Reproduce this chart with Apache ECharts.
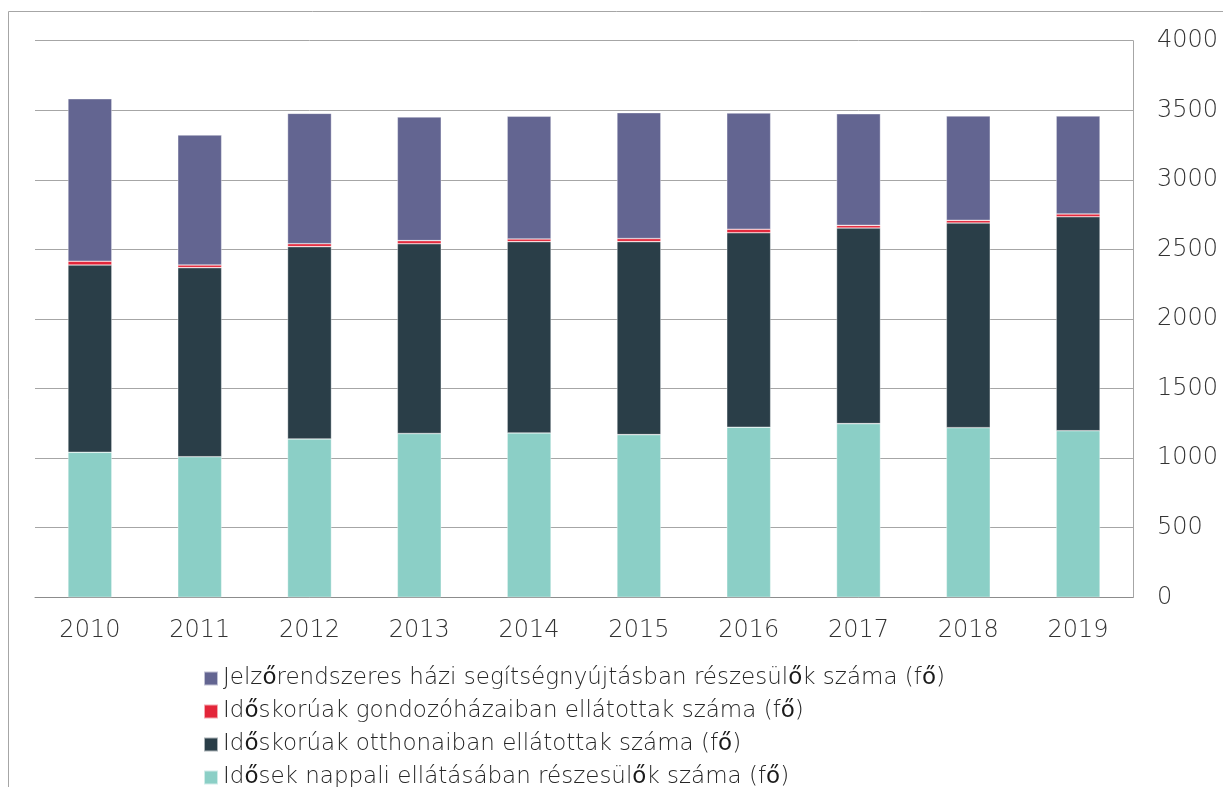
<!DOCTYPE html>
<html>
<head>
<meta charset="utf-8">
<script src="https://cdn.jsdelivr.net/npm/echarts@6/dist/echarts.min.js"></script>
<style>
  html, body { margin: 0; padding: 0; background: #fff; }
  #chart { width: 1223px; height: 787px; }
</style>
</head>
<body>
<div id="chart"></div>
<script>
// Years on the category axis
const years = ['2010', '2011', '2012', '2013', '2014', '2015', '2016', '2017', '2018', '2019'];

// Persons per service type (fő), stacked bottom to top
const napali = [1042, 1010, 1138, 1177, 1181, 1169, 1222, 1248, 1219, 1197];
const otthon = [1346, 1359, 1382, 1364, 1375, 1387, 1398, 1406, 1471, 1538];
const gondozohaz = [27, 19, 21, 22, 19, 22, 25, 19, 19, 20];
const jelzorendszer = [1168, 934, 937, 889, 882, 905, 835, 802, 750, 704];

// Series names
const names = {
  jelzo: 'Jelzőrendszeres házi segítségnyújtásban részesülők száma (fő)',
  gondozo: 'Időskorúak gondozóházaiban ellátottak száma (fő)',
  otthon: 'Időskorúak otthonaiban ellátottak száma (fő)',
  napali: 'Idősek nappali ellátásában részesülők száma (fő)'
};

// Axis ticks
const yMin = 0, yMax = 4000, yStep = 500;

const chart = echarts.init(document.getElementById('chart'), null, { renderer: 'canvas' });

const fontFamily = '"DejaVu Sans", sans-serif';
const lightWeight = 200;
const barStyle = (color) => ({ color: color, borderColor: 'rgba(255,255,255,0.6)', borderWidth: 0.6 });

const option = {
  backgroundColor: '#ffffff',
  animation: false,
  textStyle: { fontFamily: fontFamily },
  graphic: [{
    type: 'rect',
    shape: { x: 8.5, y: 11.5, width: 1400, height: 900 },
    style: { fill: 'none', stroke: '#a6a6a6', lineWidth: 1 },
    silent: true
  }],
  grid: { left: 35, right: 90, top: 40.7, bottom: 189.7, containLabel: false },
  legend: {
    orient: 'vertical',
    left: 198,
    top: 662,
    height: 200,
    itemWidth: 14,
    itemHeight: 14,
    itemGap: 10,
    icon: 'rect',
    data: [names.jelzo, names.gondozo, names.otthon, names.napali],
    formatter: (n) => n.replace(/ő/g, '{b|ő}'),
    textStyle: {
      fontSize: 23,
      lineHeight: 23,
      color: '#262626',
      fontFamily: fontFamily,
      fontWeight: lightWeight,
      padding: [0, 0, 0, 0],
      rich: { b: { fontSize: 23, lineHeight: 23, fontWeight: 'normal', color: '#1a1a1a', fontFamily: fontFamily } }
    }
  },
  xAxis: {
    type: 'category',
    data: years,
    axisLine: { show: true, lineStyle: { color: '#8c8c8c', width: 1 } },
    axisTick: { show: false },
    axisLabel: { fontSize: 24, color: '#333333', margin: 21, fontFamily: fontFamily, fontWeight: lightWeight }
  },
  yAxis: {
    type: 'value',
    position: 'right',
    min: yMin,
    max: yMax,
    interval: yStep,
    axisLine: { show: true, lineStyle: { color: '#a6a6a6', width: 1 } },
    axisTick: { show: false },
    axisLabel: { fontSize: 24, color: '#333333', margin: 24, fontFamily: fontFamily, fontWeight: lightWeight, formatter: (v) => String(v) },
    splitLine: { show: true, lineStyle: { color: '#a6a6a6', width: 1 } }
  },
  series: [
    { name: names.napali, type: 'bar', stack: 'total', barWidth: '40%', data: napali, itemStyle: barStyle('#8bcfc6') },
    { name: names.otthon, type: 'bar', stack: 'total', data: otthon, itemStyle: barStyle('#2a3e48') },
    { name: names.gondozo, type: 'bar', stack: 'total', data: gondozohaz, itemStyle: barStyle('#e32539') },
    { name: names.jelzo, type: 'bar', stack: 'total', data: jelzorendszer, itemStyle: barStyle('#636591') }
  ]
};

chart.setOption(option);
</script>
</body>
</html>
